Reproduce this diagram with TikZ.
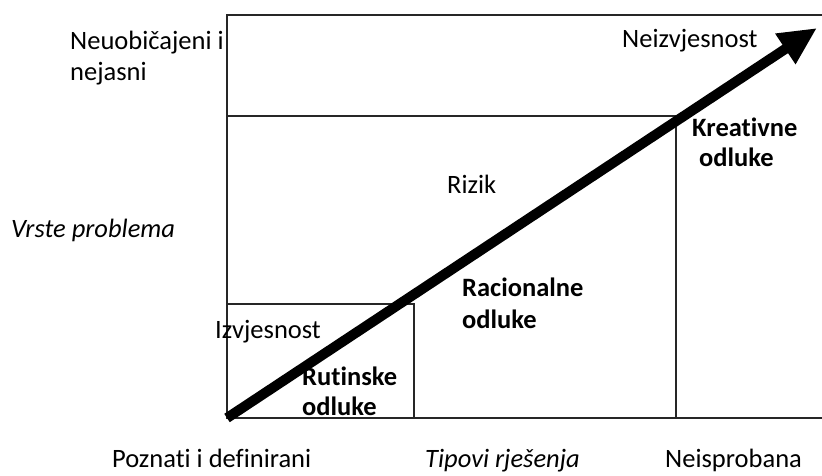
\documentclass[tikz,border=0pt]{standalone}
\usepackage{fontspec}
\setmainfont{Carlito}[Ligatures=NoCommon]
\usetikzlibrary{arrows.meta}
\begin{document}
\begin{tikzpicture}[x=1pt,y=-1pt,
  lbl/.style={anchor=base west,inner sep=0pt,font=\fontsize{26.5}{32}\selectfont},
  blbl/.style={lbl,font=\fontsize{26.5}{32}\selectfont\bfseries},
  ilbl/.style={lbl,font=\fontsize{26.5}{32}\selectfont\itshape},
  frame/.style={draw=black!85,line width=1.3pt},
  bigarrow/.style={line width=10pt,-{Triangle[length=38pt,width=34pt]}}]
\useasboundingbox (0,0) rectangle (822,475);
% frame coordinates
\coordinate (tl) at (227,15);
\coordinate (tr) at (822,15);
\coordinate (bl) at (227,418);
\coordinate (br) at (822,418);
\coordinate (ml) at (227,116);
\coordinate (mr) at (676,116);
\coordinate (mb) at (676,418);
\coordinate (sl) at (227,304);
\coordinate (sr) at (414,304);
\coordinate (sb) at (414,418);
\coordinate (tip) at (817,28);
\draw[frame] (tr) -- (tl) -- (bl) -- (br);
\draw[frame] (ml) -- (mr) -- (mb);
\draw[frame] (sl) -- (sr) -- (sb);
% texts
\node[lbl] (n1) at (70,49) {Neuobičajeni i};
\node[lbl] (n2) at (70,80) {nejasni};
\node[lbl] (nz) at (622,47) {Neizvjesnost};
\node[blbl] (k1) at (692,136) {Kreativne};
\node[blbl] (k2) at (699,166) {odluke};
\node[lbl] (rz) at (447,193) {Rizik};
\node[ilbl] (vp) at (11,237) {Vrste problema};
\node[blbl] (r1) at (462,296) {Racionalne};
\node[blbl] (r2) at (462,328) {odluke};
\node[lbl] (iz) at (215,338) {Izvjesnost};
\node[blbl] (u1) at (302,385) {Rutinske};
\node[blbl] (u2) at (302,415) {odluke};
\node[lbl] (pd) at (112,467) {Poznati i definirani};
\node[ilbl] (tr2) at (425,467) {Tipovi rješenja};
\node[lbl] (ne) at (665,467) {Neisprobana};
% arrow
\draw[bigarrow] (bl) -- (tip);
\end{tikzpicture}
\end{document}
